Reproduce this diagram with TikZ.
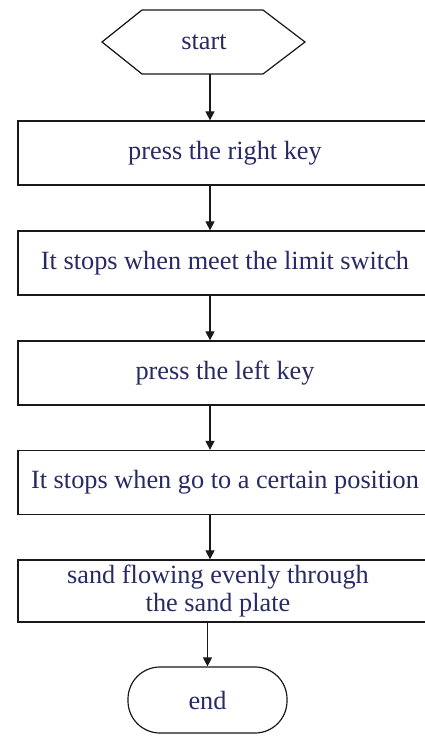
\documentclass[tikz,border=0pt]{standalone}
\usepackage{fontspec}
\setmainfont{Liberation Serif}
\usetikzlibrary{arrows.meta,calc}
\definecolor{txt}{RGB}{40,42,100}
\definecolor{ln}{RGB}{25,25,25}
\tikzset{
  txtfont/.style={font=\fontsize{26.3}{28}\selectfont},
  stepbox/.style={draw=ln, line width=1.3pt, rectangle, minimum width=414pt, minimum height=64pt, inner sep=0pt, text=txt, txtfont, align=center},
  termnode/.style={draw=ln, line width=1.2pt, rectangle, rounded corners=32pt, minimum width=159pt, minimum height=66pt, inner sep=0pt, text=txt, txtfont},
  labelnode/.style={inner sep=0pt, text=txt, txtfont},
  flow/.style={draw=ln, line width=1.2pt, -{Triangle[length=9pt,width=9pt]}},
}
\begin{document}
\begin{tikzpicture}[x=1pt,y=-1pt]
\useasboundingbox[fill=white] (0,0) rectangle (424,736);
% start hexagon
\draw[ln, line width=1.2pt] (102,42) -- (142,10) -- (263,10) -- (305,42) -- (263,74) -- (142,74) -- cycle;
\node[labelnode, minimum width=203pt, minimum height=64pt] (start) at (204,42) {start};
\coordinate (ax) at (210,0);
\node[stepbox] (b1) at (225,153) {press the right key};
\node[stepbox] (b2) at (225,263) {It stops when meet the limit switch};
\node[stepbox] (b3) at (225,373) {press the left key};
\node[stepbox] (b4) at (225,482.5) {It stops when go to a certain position};
\node[stepbox, minimum height=62pt] (b5) at (225,591) {\hspace*{-14pt}sand flowing evenly through\\\hspace*{-14pt}the sand plate};
\node[termnode] (end) at (207.5,700) {end};
\draw[flow] (start.south -| ax) -- (b1.north -| ax);
\draw[flow] (b1.south -| ax) -- (b2.north -| ax);
\draw[flow] (b2.south -| ax) -- (b3.north -| ax);
\draw[flow] (b3.south -| ax) -- (b4.north -| ax);
\draw[flow] (b4.south -| ax) -- (b5.north -| ax);
\draw[flow] (b5.south -| end.north) -- (end.north);
\end{tikzpicture}
\end{document}
